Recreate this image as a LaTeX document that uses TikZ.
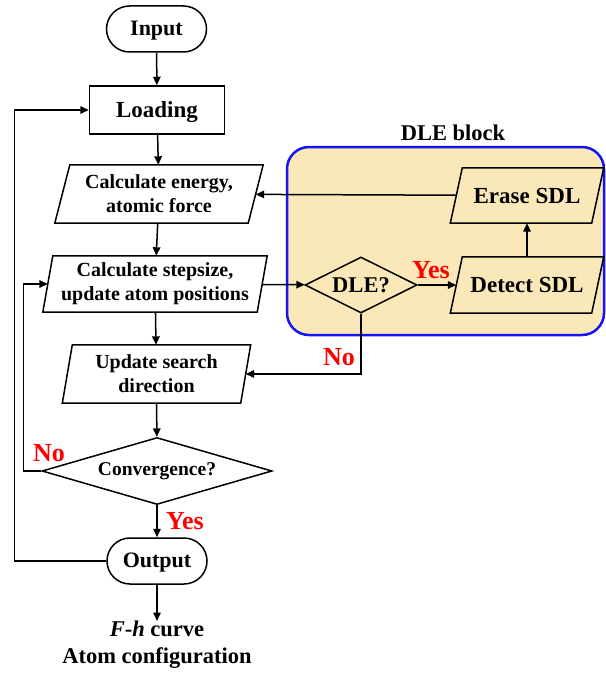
\documentclass[tikz,border=0pt]{standalone}
\usepackage{fontspec}
\setmainfont{Liberation Serif}
\usetikzlibrary{arrows.meta,shapes.geometric,shapes.misc}
\definecolor{dletan}{RGB}{250,232,185}
\definecolor{dleblue}{RGB}{20,20,245}
\definecolor{lblred}{RGB}{255,0,0}
\tikzset{
  arr/.style={-{Triangle[length=8.5pt,width=7.5pt]}, line width=1.5pt},
  ln/.style={line width=1.5pt},
  term/.style={rounded rectangle, draw, line width=1.5pt, minimum width=100pt, minimum height=46pt, inner sep=0pt, text depth=1pt, font=\fontsize{22}{24}\selectfont\bfseries},
  boxn/.style={rectangle, draw, line width=1.5pt, minimum width=135pt, minimum height=48pt, inner sep=0pt, text depth=1pt, font=\fontsize{23}{24}\selectfont\bfseries},
  paran/.style={rectangle, inner sep=0pt, align=center, font=\fontsize{20}{24}\selectfont\bfseries},
  bigpara/.style={rectangle, inner sep=0pt, align=center, font=\fontsize{23}{24}\selectfont\bfseries},
  dec/.style={diamond, draw, line width=1.5pt, inner sep=0pt, align=center},
  lbl/.style={text=lblred, font=\fontsize{26}{28}\selectfont\bfseries},
}
\newcommand{\parashape}[2]{%
  \draw[ln] ([xshift=#2]#1.north west) -- ([xshift=#2]#1.north east) -- ([xshift=-#2]#1.south east) -- ([xshift=-#2]#1.south west) -- cycle;}
\begin{document}
\begin{tikzpicture}[x=1pt,y=-1pt]
\useasboundingbox (0,0) rectangle (605,674);
% DLE block background
\draw[line width=2.5pt, draw=dleblue, fill=dletan, rounded corners=22pt] (287,147) rectangle (604,335);
\node[font=\fontsize{22.5}{24}\selectfont\bfseries] (dletitle) at (453,133) {DLE block};

% main column
\node[term] (inp) at (156.5,29) {Input};
\node[boxn] (load) at (157,110) {Loading};
\node[paran, minimum width=193pt, minimum height=58pt] (calcE) at (159,194) {Calculate energy,\\atomic force};
\node[paran, minimum width=214pt, minimum height=56pt] (step) at (155,284) {Calculate stepsize,\\update atom positions};
\node[paran, minimum width=178pt, minimum height=58pt] (upd) at (156.5,374) {Update search\\direction};
\node[dec, aspect=3.43, minimum width=230pt, minimum height=67pt, font=\fontsize{19.5}{21}\selectfont\bfseries] (conv) at (157,471) {Convergence?};
\node[term] (out) at (157,561) {Output};
\node[inner sep=0pt, align=center, font=\fontsize{22.5}{27}\selectfont\bfseries, anchor=north] (res) at (157,621) {\textit{F}-\textit{h} curve\\Atom configuration};

% DLE block nodes
\node[dec, aspect=2, minimum width=112pt, minimum height=56pt, font=\fontsize{22.5}{24}\selectfont\bfseries] (dle) at (361,285) {DLE?};
\node[bigpara, minimum width=141pt, minimum height=55pt] (erase) at (527,195.5) {Erase SDL};
\node[bigpara, minimum width=141pt, minimum height=56pt] (detect) at (527,285) {Detect SDL};

% parallelogram outlines
\parashape{calcE}{7.5}
\parashape{step}{5}
\parashape{upd}{5}
\parashape{erase}{6}
\parashape{detect}{6}

% connectors
\draw[arr] (inp) -- (load);
\draw[arr] (load) -- (calcE);
\draw[arr] (calcE) -- (step);
\draw[arr] (step) -- (upd);
\draw[arr] (upd) -- (conv);
\draw[arr] (conv) -- (out);
\draw[arr] (out) -- (res);
\draw[arr] (step) -- (dle);
\draw[arr] (dle) -- (detect);
\draw[arr] (detect) -- (erase);
\draw[arr] (erase) -- (calcE);
\draw[arr] (dle.south) |- (upd.east);
\draw[arr] (conv.west) -- ++(-18,0) |- (step.west);
\draw[arr] (out.west) -- ++(-92,0) |- (load.west);

% labels
\node[lbl] (yes1) at (185,521) {Yes};
\node[lbl] (no1) at (49,453) {No};
\node[lbl] (yes2) at (431,270) {Yes};
\node[lbl] (no2) at (339,357) {No};
\end{tikzpicture}
\end{document}
